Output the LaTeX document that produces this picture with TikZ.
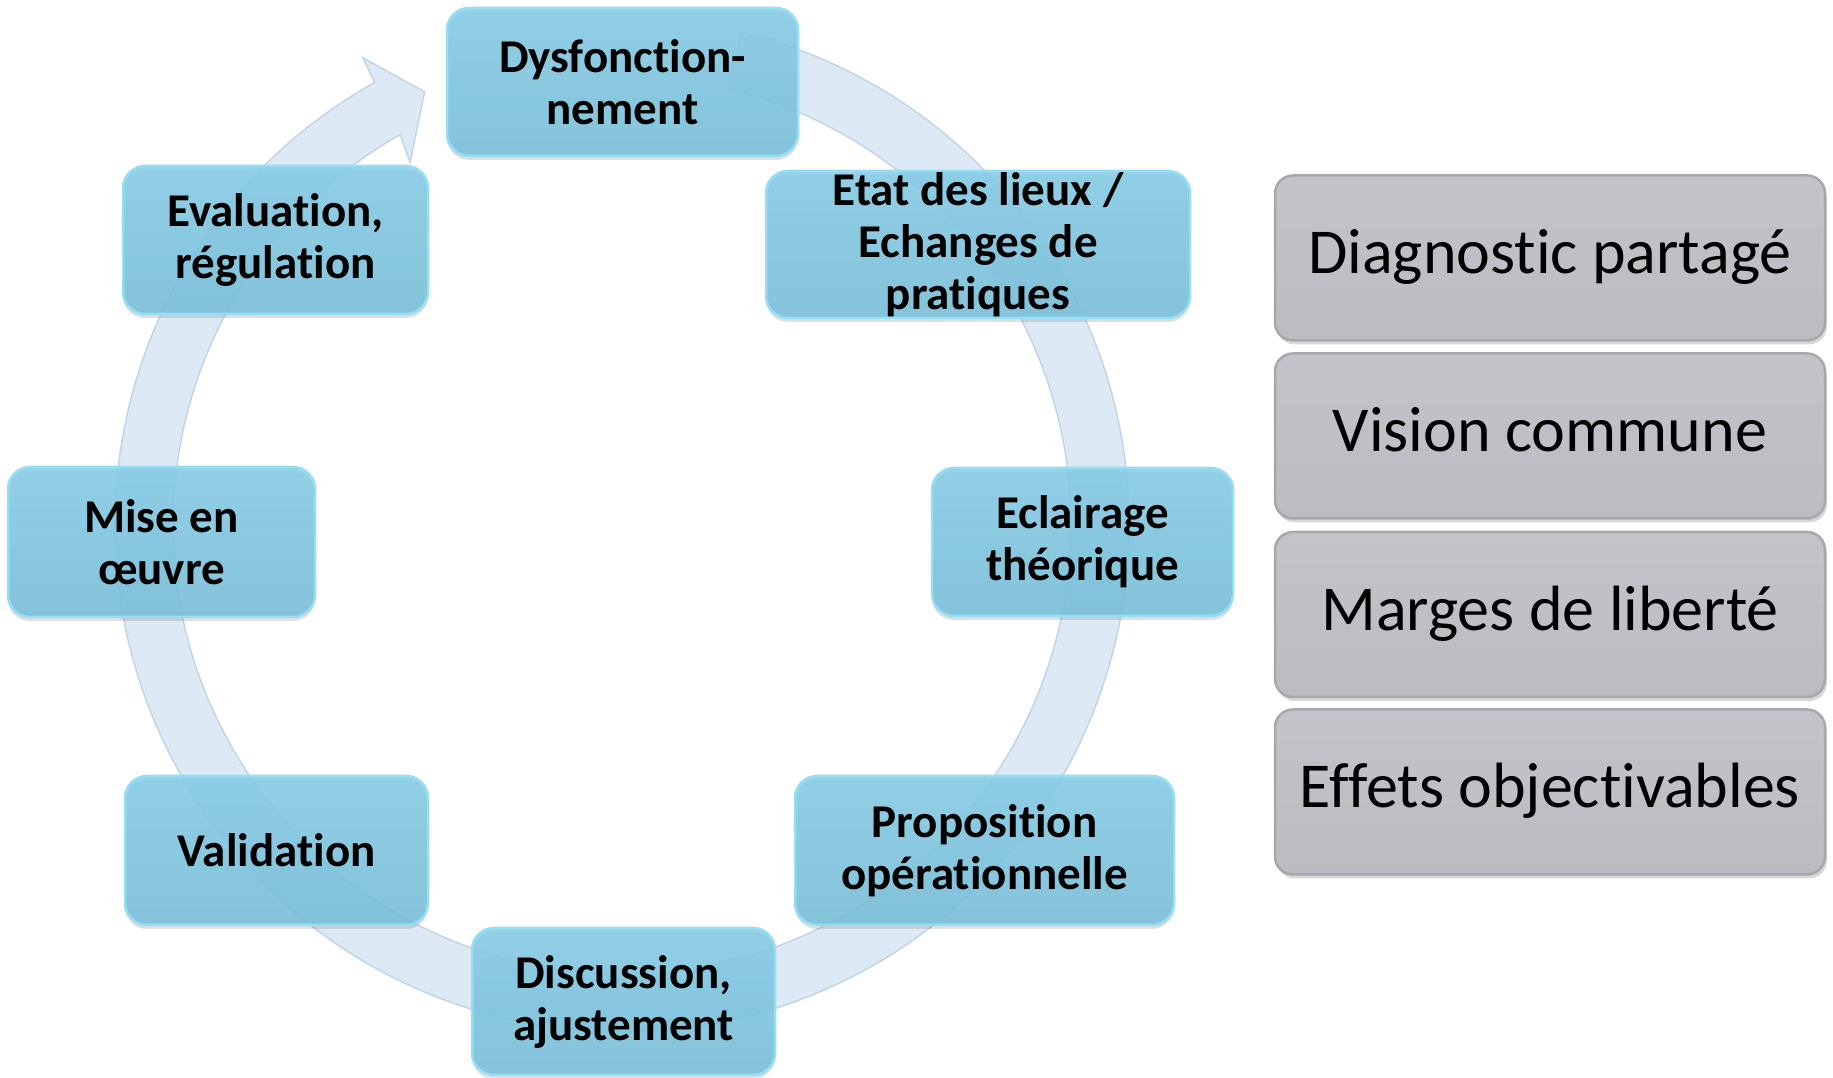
\documentclass[tikz,border=0pt]{standalone}
\usepackage{fontspec}
\setmainfont{Carlito}[Ligatures=NoCommon]
\usetikzlibrary{shadows,calc}
\definecolor{bandfill}{RGB}{220,232,245}
\definecolor{bandedge}{RGB}{196,212,232}
\definecolor{bluetop}{RGB}{134,205,231}
\definecolor{bluebot}{RGB}{120,192,218}
\definecolor{blueedge}{RGB}{150,222,244}
\definecolor{greytop}{RGB}{196,195,201}
\definecolor{greybot}{RGB}{188,187,193}
\definecolor{greyedge}{RGB}{168,167,173}
\tikzset{
  bluebox/.style={rectangle, rounded corners=22pt, top color=bluetop, bottom color=bluebot,
    draw=blueedge, line width=2.5pt, fill opacity=0.88, text opacity=1, align=center,
    font=\fontsize{47}{52}\selectfont\bfseries, inner sep=0pt,
    drop shadow={opacity=0.25, shadow xshift=0pt, shadow yshift=-4pt}},
  greybox/.style={rectangle, rounded corners=18pt, top color=greytop, bottom color=greybot,
    draw=greyedge, line width=2.5pt, minimum width=550pt, minimum height=165pt,
    font=\fontsize{64}{70}\selectfont, inner sep=0pt, text height=44pt, text depth=12pt,
    drop shadow={opacity=0.3, shadow xshift=2pt, shadow yshift=-4pt}},
  band/.style={fill=bandfill, draw=bandedge, line width=1.5pt, fill opacity=0.95}
}
\begin{document}
\begin{tikzpicture}[x=1pt,y=1pt]
\useasboundingbox (0,0) rectangle (1833,1078);
\fill[white] (0,0) rectangle (1833,1078);
% circular arrow
\coordinate (c) at (622,553);
\begin{scope}[shift={(c)}]
\draw[band] (76.4:507pt) arc[start angle=76.4, end angle=-240.8, radius=507pt]
  -- (119.0:534pt) -- (114.5:476pt) -- (120.3:420pt) -- (119.6:449pt)
  arc[start angle=119.6, end angle=436.4, radius=449pt] -- cycle;
\end{scope}
% blue boxes
\node[bluebox, minimum width=351pt, minimum height=148pt] (dys) at (622.5,996) {Dysfonction-\\nement};
\node[bluebox, minimum width=424pt, minimum height=147pt] (etat) at (978,833.5) {Etat des lieux /\\Echanges de\\pratiques};
\node[bluebox, minimum width=301pt, minimum height=148pt] (ecl) at (1082.5,536) {Eclairage\\théorique};
\node[bluebox, minimum width=379pt, minimum height=149pt] (prop) at (984.5,227.5) {Proposition\\opérationnelle};
\node[bluebox, minimum width=303pt, minimum height=147pt] (disc) at (623.5,76.5) {Discussion,\\ajustement};
\node[bluebox, minimum width=303pt, minimum height=149pt] (valid) at (276.5,227.5) {Validation};
\node[bluebox, minimum width=307pt, minimum height=150pt] (mise) at (161.5,536) {Mise en\\œuvre};
\node[bluebox, minimum width=305pt, minimum height=148pt] (eval) at (275.5,838) {Evaluation,\\régulation};
% grey boxes
\node[greybox] (g1) at (1550,820) {Diagnostic partagé};
\node[greybox] (g2) at (1550,642) {Vision commune};
\node[greybox] (g3) at (1550,463.5) {Marges de liberté};
\node[greybox] (g4) at (1550,286) {Effets objectivables};
\end{tikzpicture}
\end{document}
